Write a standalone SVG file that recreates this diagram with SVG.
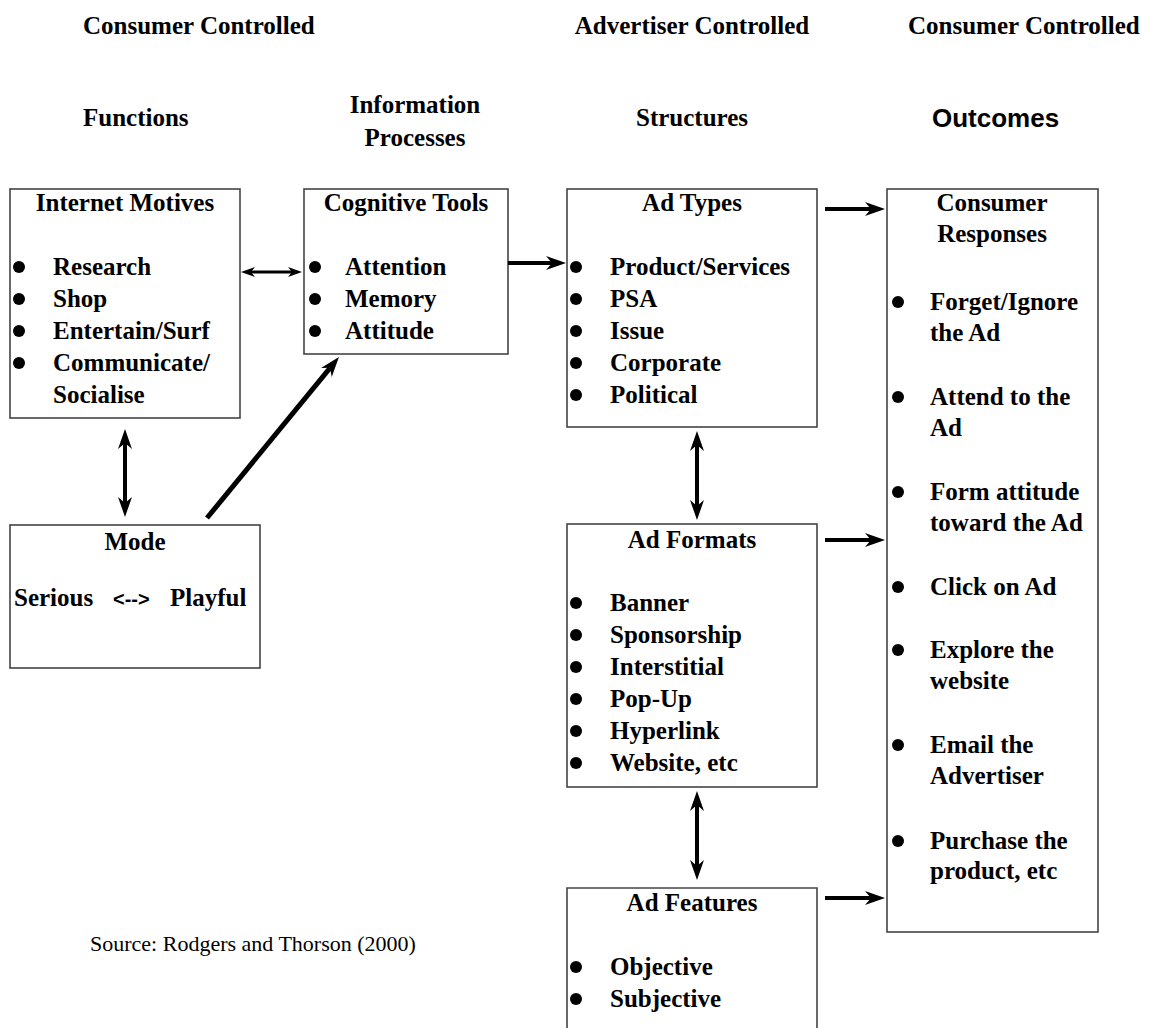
<svg xmlns="http://www.w3.org/2000/svg" width="1153" height="1028" viewBox="0 0 1153 1028">
<style>
.t{font-family:"Liberation Serif","Times New Roman",serif;font-weight:bold;font-size:25px;fill:#000}
.m{text-anchor:middle}
.src{font-family:"Liberation Serif","Times New Roman",serif;font-size:22px;fill:#000}
.sans{font-family:"Liberation Sans",Arial,sans-serif;font-weight:bold;font-size:26px;fill:#000}
.box{fill:#fff;stroke:#444;stroke-width:1.6}
.c{stroke:#000;stroke-width:4;fill:none}
.cs{stroke:#000;stroke-width:3;fill:none}
.b{fill:#000}
</style>
<defs>
<marker id="h" markerUnits="userSpaceOnUse" markerWidth="20" markerHeight="14" refX="6" refY="7" orient="auto-start-reverse" viewBox="0 0 20 14">
<path d="M0,0 L20,7 L0,14 L6,7 z" fill="#000"/>
</marker>
<marker id="hs" markerUnits="userSpaceOnUse" markerWidth="14" markerHeight="10" refX="4" refY="5" orient="auto-start-reverse" viewBox="0 0 14 10">
<path d="M0,0 L14,5 L0,10 L4,5 z" fill="#000"/>
</marker>
</defs>
<rect width="1153" height="1028" fill="#fff"/>

<g id="headers">
<text class="t" x="83" y="34">Consumer Controlled</text>
<text class="t m" x="692" y="34">Advertiser Controlled</text>
<text class="t" x="908" y="34">Consumer Controlled</text>
<text class="t" x="83" y="126">Functions</text>
<text class="t m" x="415" y="113">Information</text>
<text class="t m" x="415" y="146">Processes</text>
<text class="t m" x="692" y="126">Structures</text>
<text class="sans" x="932" y="127">Outcomes</text>
</g>

<g id="internet-motives">
<rect class="box" x="10" y="189" width="230" height="229"/>
<text class="t m" x="125" y="211">Internet Motives</text>
<circle class="b" cx="19" cy="267" r="6"/><text class="t" x="53" y="275">Research</text>
<circle class="b" cx="19" cy="299" r="6"/><text class="t" x="53" y="307">Shop</text>
<circle class="b" cx="19" cy="331" r="6"/><text class="t" x="53" y="339">Entertain/Surf</text>
<circle class="b" cx="19" cy="363" r="6"/><text class="t" x="53" y="371">Communicate/</text>
<text class="t" x="53" y="403">Socialise</text>
</g>

<g id="cognitive-tools">
<rect class="box" x="304" y="189" width="204" height="165"/>
<text class="t m" x="406" y="211">Cognitive Tools</text>
<circle class="b" cx="315" cy="267" r="6"/><text class="t" x="345" y="275">Attention</text>
<circle class="b" cx="315" cy="299" r="6"/><text class="t" x="345" y="307">Memory</text>
<circle class="b" cx="315" cy="331" r="6"/><text class="t" x="345" y="339">Attitude</text>
</g>

<g id="ad-types">
<rect class="box" x="567" y="189" width="250" height="238"/>
<text class="t m" x="692" y="211">Ad Types</text>
<circle class="b" cx="576" cy="267" r="6"/><text class="t" x="610" y="275">Product/Services</text>
<circle class="b" cx="576" cy="299" r="6"/><text class="t" x="610" y="307">PSA</text>
<circle class="b" cx="576" cy="331" r="6"/><text class="t" x="610" y="339">Issue</text>
<circle class="b" cx="576" cy="363" r="6"/><text class="t" x="610" y="371">Corporate</text>
<circle class="b" cx="576" cy="395" r="6"/><text class="t" x="610" y="403">Political</text>
</g>

<g id="consumer-responses">
<rect class="box" x="887" y="189" width="211" height="743"/>
<text class="t m" x="992" y="211">Consumer</text>
<text class="t m" x="992" y="242">Responses</text>
<circle class="b" cx="898" cy="302" r="6"/><text class="t" x="930" y="310">Forget/Ignore</text>
<text class="t" x="930" y="341">the Ad</text>
<circle class="b" cx="898" cy="397" r="6"/><text class="t" x="930" y="405">Attend to the</text>
<text class="t" x="930" y="436">Ad</text>
<circle class="b" cx="898" cy="492" r="6"/><text class="t" x="930" y="500">Form attitude</text>
<text class="t" x="930" y="531">toward the Ad</text>
<circle class="b" cx="898" cy="587" r="6"/><text class="t" x="930" y="595">Click on Ad</text>
<circle class="b" cx="898" cy="650" r="6"/><text class="t" x="930" y="658">Explore the</text>
<text class="t" x="930" y="689">website</text>
<circle class="b" cx="898" cy="745" r="6"/><text class="t" x="930" y="753">Email the</text>
<text class="t" x="930" y="784">Advertiser</text>
<circle class="b" cx="898" cy="841" r="6"/><text class="t" x="930" y="849">Purchase the</text>
<text class="t" x="930" y="879">product, etc</text>
</g>

<g id="mode">
<rect class="box" x="10" y="525" width="250" height="143"/>
<text class="t m" x="135" y="550">Mode</text>
<text class="t" x="14" y="606">Serious</text>
<text class="sans" style="font-size:20px" x="113" y="606">&lt;--&gt;</text>
<text class="t" x="170" y="606">Playful</text>
</g>

<g id="ad-formats">
<rect class="box" x="567" y="524" width="250" height="263"/>
<text class="t m" x="692" y="548">Ad Formats</text>
<circle class="b" cx="576" cy="603" r="6"/><text class="t" x="610" y="611">Banner</text>
<circle class="b" cx="576" cy="635" r="6"/><text class="t" x="610" y="643">Sponsorship</text>
<circle class="b" cx="576" cy="667" r="6"/><text class="t" x="610" y="675">Interstitial</text>
<circle class="b" cx="576" cy="699" r="6"/><text class="t" x="610" y="707">Pop-Up</text>
<circle class="b" cx="576" cy="731" r="6"/><text class="t" x="610" y="739">Hyperlink</text>
<circle class="b" cx="576" cy="763" r="6"/><text class="t" x="610" y="771">Website, etc</text>
</g>

<g id="ad-features">
<path class="box" d="M567,1030 V888 H817 V1030"/>
<text class="t m" x="692" y="911">Ad Features</text>
<circle class="b" cx="576" cy="967" r="6"/><text class="t" x="610" y="975">Objective</text>
<circle class="b" cx="576" cy="999" r="6"/><text class="t" x="610" y="1007">Subjective</text>
</g>

<g id="source">
<text class="src" x="90" y="951">Source: Rodgers and Thorson (2000)</text>
</g>

<g id="connectors">
<line class="cs" x1="251" y1="272" x2="292" y2="272" marker-start="url(#hs)" marker-end="url(#hs)"/>
<line class="c" x1="508" y1="263" x2="552" y2="263" marker-end="url(#h)"/>
<line class="c" style="stroke-width:5" x1="207" y1="518" x2="330.1" y2="367.8" marker-end="url(#h)"/>
<line class="c" x1="125" y1="443" x2="125" y2="503" marker-start="url(#h)" marker-end="url(#h)"/>
<line class="c" x1="697" y1="445" x2="697" y2="506" marker-start="url(#h)" marker-end="url(#h)"/>
<line class="c" x1="697" y1="805" x2="697" y2="866" marker-start="url(#h)" marker-end="url(#h)"/>
<line class="c" x1="825" y1="209" x2="871" y2="209" marker-end="url(#h)"/>
<line class="c" x1="825" y1="540" x2="871" y2="540" marker-end="url(#h)"/>
<line class="c" x1="825" y1="898" x2="871" y2="898" marker-end="url(#h)"/>
</g>
</svg>
